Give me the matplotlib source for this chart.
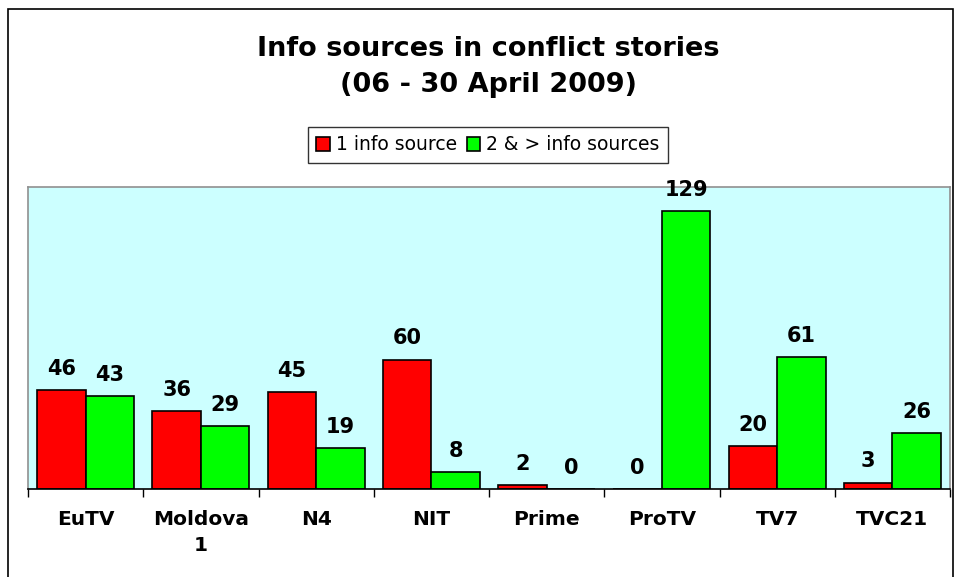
import matplotlib
matplotlib.use("Agg")
import matplotlib.pyplot as plt
from matplotlib.patches import Rectangle
import numpy as np

# data
channels = ["EuTV", "Moldova\n1", "N4", "NIT", "Prime", "ProTV", "TV7", "TVC21"]
one_source = [46, 36, 45, 60, 2, 0, 20, 3]
two_plus_sources = [43, 29, 19, 8, 0, 129, 61, 26]
series_names = ["1 info source", "2 & > info sources"]

W, H = 957, 577
fig = plt.figure(figsize=(W / 100, H / 100), dpi=100)
fig.patch.set_facecolor("white")

# outer chart border
fig.add_artist(Rectangle((8 / W, -0.02), (953 - 8) / W, (H - 9) / H + 0.02,
                         transform=fig.transFigure, fill=False,
                         edgecolor="black", linewidth=1.2))

# plot area: x 28..950, y 187..489 (pixels)
ax = fig.add_axes([28 / W, 1 - 489 / H, (950 - 28) / W, (489 - 187) / H])
ax.set_facecolor("#CCFFFF")

x = np.arange(len(channels))
bw = 0.42
b1 = ax.bar(x - bw / 2, one_source, bw, color="#FF0000", edgecolor="black",
            linewidth=1.2, label=series_names[0])
b2 = ax.bar(x + bw / 2, two_plus_sources, bw, color="#00FF00", edgecolor="black",
            linewidth=1.2, label=series_names[1])

for bars, vals in ((b1, one_source), (b2, two_plus_sources)):
    for rect, v in zip(bars, vals):
        ax.annotate(str(v), (rect.get_x() + rect.get_width() / 2, v),
                    xytext=(0, 8), textcoords="offset points",
                    ha="center", va="bottom", fontsize=15,
                    fontweight="bold", family="DejaVu Sans")

ax.set_xlim(-0.5, len(channels) - 0.5)
ax.set_ylim(0, 140)
ax.set_yticks([])

# category labels between boundary ticks
ax.set_xticks(np.arange(len(channels) + 1) - 0.5)
ax.set_xticklabels([])
ax.tick_params(axis="x", direction="out", length=6, width=1, color="black")
ax.set_xticks(x, minor=True)
ax.set_xticklabels(channels, minor=True, fontsize=14.5, fontweight="bold",
                   va="top", linespacing=1.45)
ax.tick_params(axis="x", which="minor", length=0, pad=15)

for side in ("top", "right", "left"):
    ax.spines[side].set_color("#909090")
    ax.spines[side].set_linewidth(1.2)
ax.spines["bottom"].set_color("black")
ax.spines["bottom"].set_linewidth(1.2)

fig.text(488 / W, 1 - 67 / H, "Info sources in conflict stories\n(06 - 30 April 2009)",
         ha="center", va="center", fontsize=19.5, fontweight="bold",
         family="DejaVu Sans", linespacing=1.5)

leg = fig.legend(loc="center", bbox_to_anchor=(488 / W, 1 - 145 / H),
                 ncol=2, fontsize=13.5, frameon=True, fancybox=False,
                 handlelength=0.7, handleheight=0.7, handletextpad=0.35,
                 columnspacing=0.5, borderpad=0.45)
leg.get_frame().set_edgecolor("black")
leg.get_frame().set_linewidth(1.0)

fig.savefig("out.png", dpi=100)
